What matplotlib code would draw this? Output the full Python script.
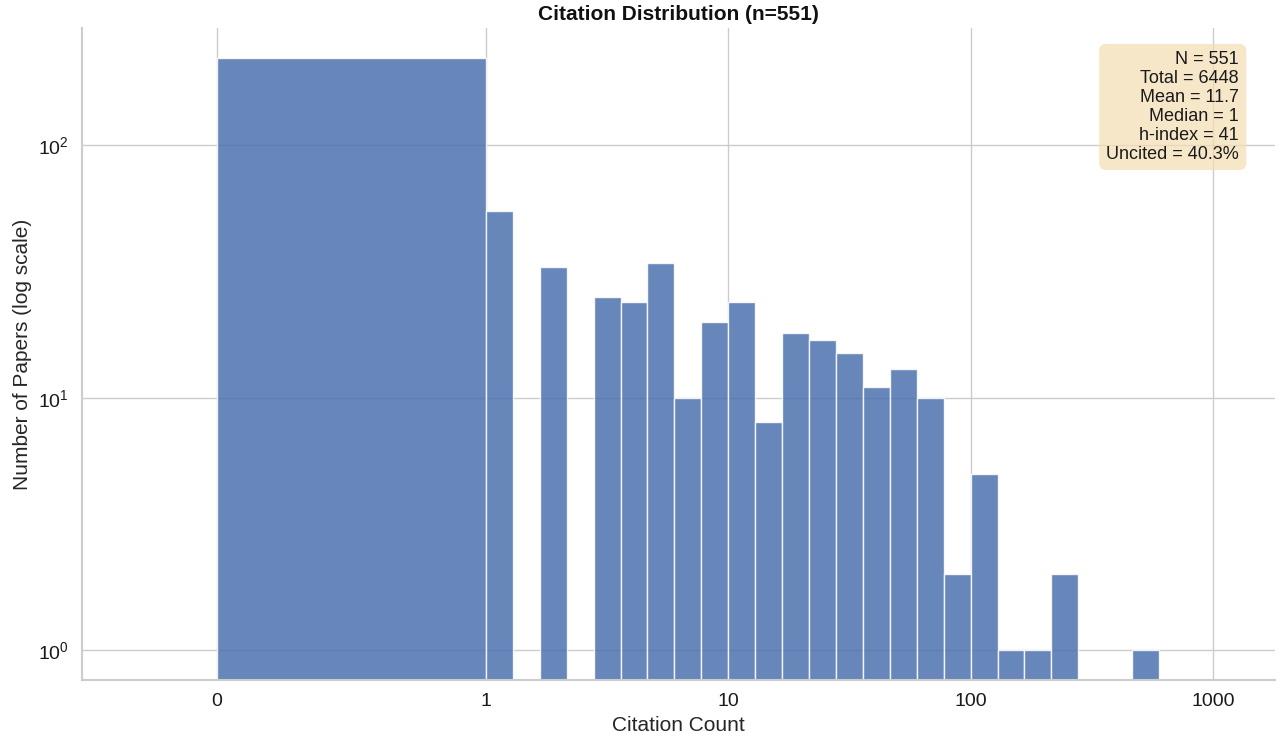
import numpy as np
import matplotlib
matplotlib.use("Agg")
import matplotlib.pyplot as plt
import seaborn as sns

# histogram of citations: first bin is the uncited papers (0 to 1),
# then log spaced bins (9 per decade) starting at 1 citation
bin_edges = np.concatenate([[0], 10 ** (np.arange(26) / 9)])
counts = [222, 55, 0, 33, 0, 25, 24, 34, 10, 20, 24, 8, 18, 17, 15,
          11, 13, 10, 2, 5, 1, 1, 2, 0, 0, 1]

x_ticks = [0, 1, 10, 100, 1000]
x_tick_labels = ['0', '1', '10', '100', '1000']

stats_text = "N = 551\nTotal = 6448\nMean = 11.7\nMedian = 1\nh-index = 41\nUncited = 40.3%"

sns.set_theme(style="whitegrid")
plt.rcParams['font.family'] = ['Liberation Sans', 'DejaVu Sans']
plt.rcParams['mathtext.default'] = 'regular'

fig = plt.figure(figsize=(12.8, 7.44), dpi=100)
ax = fig.add_axes([0.064, 0.086, 0.932, 0.876])

lefts = bin_edges[:-1]
widths = np.diff(bin_edges)
mask = np.array(counts) > 0
ax.bar(lefts[mask], np.array(counts)[mask], width=widths[mask], align='edge',
       color='#4C72B0', alpha=0.85, edgecolor='white', linewidth=1)

ax.set_xscale('symlog', linthresh=1)
ax.set_yscale('log')
ax.set_xlim(-0.5, 1800)
ax.set_ylim(0.764, 290)
ax.set_xticks(x_ticks)
ax.set_xticklabels(x_tick_labels)
ax.xaxis.set_minor_locator(matplotlib.ticker.NullLocator())
ax.yaxis.set_minor_locator(matplotlib.ticker.NullLocator())
ax.tick_params(labelsize=14, labelcolor='#1a1a1a')

ax.set_title('Citation Distribution (n=551)', fontsize=15, fontweight='bold', pad=6,
             color='#111111')
ax.set_xlabel('Citation Count', fontsize=15, labelpad=4)
ax.set_ylabel('Number of Papers (log scale)', fontsize=15)

ax.text(0.97, 0.965, stats_text, transform=ax.transAxes, ha='right', va='top',
        fontsize=13, linespacing=1.15, color='#1a1a1a',
        bbox=dict(boxstyle='round,pad=0.4', facecolor='wheat', alpha=0.7, edgecolor='none'))

sns.despine(ax=ax)
for s in ['left', 'bottom']:
    ax.spines[s].set_color('#cccccc')
    ax.spines[s].set_linewidth(1.5)

fig.savefig('out.png')
